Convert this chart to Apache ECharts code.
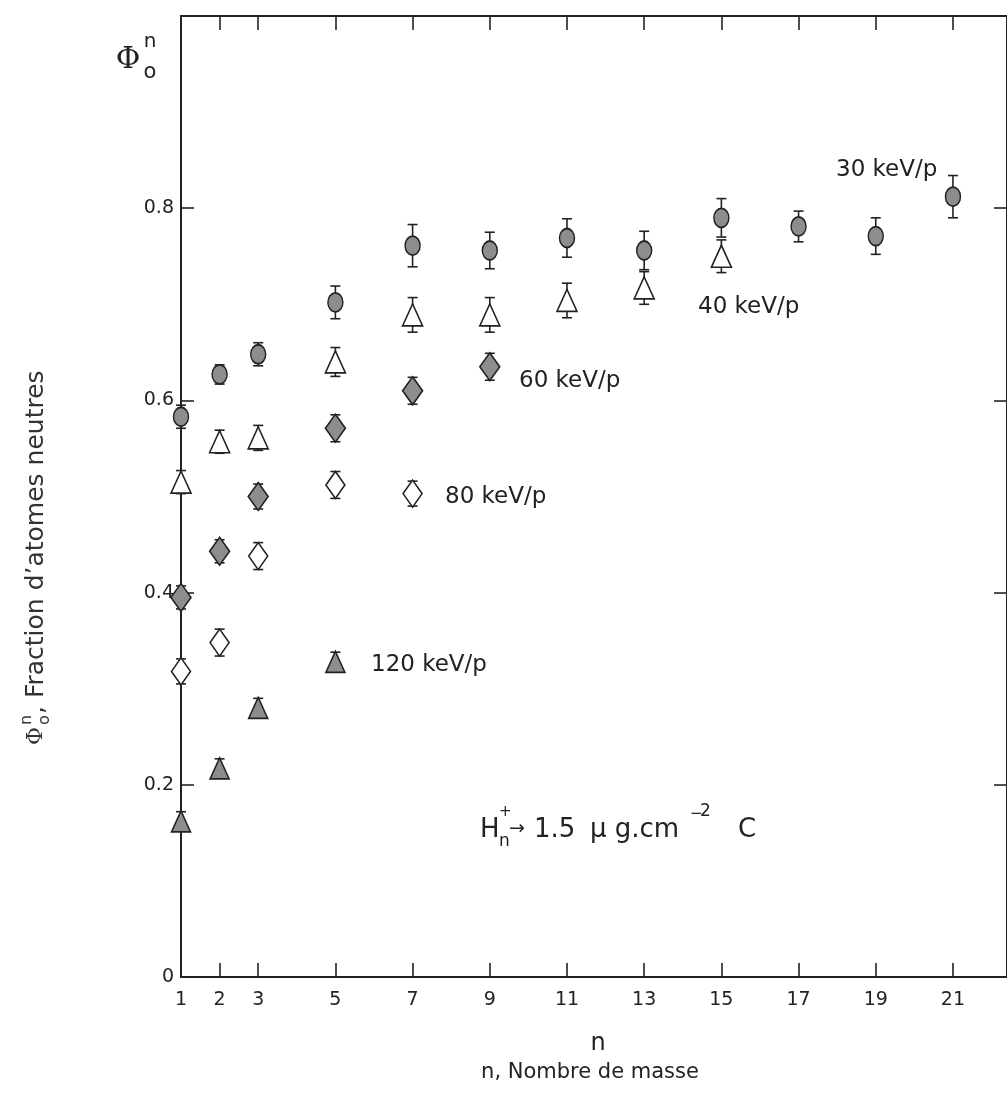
<!DOCTYPE html>
<html>
<head>
<meta charset="utf-8">
<script src="https://cdn.jsdelivr.net/npm/echarts@6/dist/echarts.min.js"></script>
<style>
html,body{margin:0;padding:0;background:#fff;}
#chart{width:1007px;height:1093px;}
</style>
</head>
<body>
<div id="chart"></div>
<script>
// ---- data ----
var xLabelValues = [1, 2, 3, 5, 7, 9, 11, 13, 15, 17, 19, 21];
var xTickValues = [2, 3, 5, 7, 9, 11, 13, 15, 17, 19, 21];
var yLabelValues = [0, 0.2, 0.4, 0.6, 0.8];
var yTickValues = [0.2, 0.4, 0.6, 0.8];

var n30 = [1, 2, 3, 5, 7, 9, 11, 13, 15, 17, 19, 21];
var v30 = [0.583, 0.627, 0.648, 0.702, 0.761, 0.756, 0.769, 0.756, 0.790, 0.781, 0.771, 0.812];
var e30 = [0.012, 0.010, 0.012, 0.017, 0.022, 0.019, 0.020, 0.020, 0.020, 0.016, 0.019, 0.022];

var n40 = [1, 2, 3, 5, 7, 9, 11, 13, 15];
var v40 = [0.515, 0.557, 0.561, 0.640, 0.689, 0.689, 0.704, 0.717, 0.750];
var e40 = [0.012, 0.012, 0.013, 0.015, 0.018, 0.018, 0.018, 0.017, 0.017];

var n60 = [1, 2, 3, 5, 7, 9];
var v60 = [0.395, 0.443, 0.500, 0.571, 0.610, 0.635];
var e60 = [0.012, 0.012, 0.013, 0.014, 0.014, 0.014];

var n80 = [1, 2, 3, 5, 7];
var v80 = [0.318, 0.348, 0.438, 0.512, 0.503];
var e80 = [0.013, 0.014, 0.014, 0.014, 0.013];

var n120 = [1, 2, 3, 5];
var v120 = [0.162, 0.217, 0.280, 0.328];
var e120 = [0.010, 0.010, 0.010, 0.010];

// ---- styling ----
var INK = '#222';
var SOFT = '#333';
var GRAYFILL = '#8d8d8d';
var FONT = '"DejaVu Sans", "Liberation Sans", sans-serif';

function pts(ns, vs) { return ns.map(function (n, i) { return [n, vs[i]]; }); }

function errSeries(ns, vs, es) {
  return {
    type: 'custom',
    silent: true,
    clip: false,
    z: 2,
    data: ns.map(function (n, i) { return [n, vs[i] - es[i], vs[i] + es[i]]; }),
    encode: { x: 0, y: [1, 2] },
    renderItem: function (params, api) {
      var x = api.value(0);
      var lo = api.coord([x, api.value(1)]);
      var hi = api.coord([x, api.value(2)]);
      var w = 5;
      var st = { stroke: INK, lineWidth: 1.6 };
      return {
        type: 'group',
        children: [
          { type: 'line', shape: { x1: lo[0], y1: lo[1], x2: hi[0], y2: hi[1] }, style: st },
          { type: 'line', shape: { x1: lo[0] - w, y1: lo[1], x2: lo[0] + w, y2: lo[1] }, style: st },
          { type: 'line', shape: { x1: hi[0] - w, y1: hi[1], x2: hi[0] + w, y2: hi[1] }, style: st }
        ]
      };
    }
  };
}

function markSeries(name, ns, vs, symbol, size, fill) {
  return {
    name: name,
    type: 'scatter',
    clip: false,
    z: 3,
    symbol: symbol,
    symbolSize: size,
    data: pts(ns, vs),
    itemStyle: { color: fill, borderColor: INK, borderWidth: 1.6, opacity: 1 },
    emphasis: { disabled: true }
  };
}

var axisLineStyle = { color: INK, width: 2 };
var tickLineStyle = { color: INK, width: 1.6 };

function txt(x, y, s, size, extra) {
  var st = { text: s, font: size + 'px ' + FONT, fill: INK, textVerticalAlign: 'middle' };
  if (extra) { for (var k in extra) st[k] = extra[k]; }
  return { type: 'text', x: x, y: y, style: st };
}

var option = {
  backgroundColor: '#fff',
  animation: false,
  grid: { left: 181, top: 16, width: 831, height: 961 },
  xAxis: [
    {
      type: 'value', position: 'bottom', min: 1, max: 22.4,
      axisLine: { show: true, onZero: false, lineStyle: axisLineStyle },
      axisTick: { show: true, inside: true, length: 14, customValues: xTickValues, lineStyle: tickLineStyle },
      axisLabel: { show: true, customValues: xLabelValues, fontSize: 19, color: INK, fontFamily: FONT, margin: 14 },
      splitLine: { show: false }
    },
    {
      type: 'value', position: 'top', min: 1, max: 22.4,
      axisLine: { show: true, onZero: false, lineStyle: axisLineStyle },
      axisTick: { show: true, inside: true, length: 14, customValues: xTickValues, lineStyle: tickLineStyle },
      axisLabel: { show: false },
      splitLine: { show: false }
    }
  ],
  yAxis: [
    {
      type: 'value', position: 'left', min: 0, max: 1, interval: 0.2,
      axisLine: { show: true, onZero: false, lineStyle: axisLineStyle },
      axisTick: { show: true, inside: true, length: 13, customValues: yTickValues, lineStyle: tickLineStyle },
      axisLabel: {
        show: true, customValues: yLabelValues, fontSize: 19, color: INK, fontFamily: FONT, margin: 7,
        formatter: function (v) { return v === 0 ? '0' : v.toFixed(1); }
      },
      splitLine: { show: false }
    },
    {
      type: 'value', position: 'right', min: 0, max: 1, interval: 0.2,
      axisLine: { show: true, onZero: false, lineStyle: axisLineStyle },
      axisTick: { show: true, inside: true, length: 13, customValues: yTickValues, lineStyle: tickLineStyle },
      axisLabel: { show: false },
      splitLine: { show: false }
    }
  ],
  series: [
    errSeries(n30, v30, e30),
    errSeries(n40, v40, e40),
    errSeries(n60, v60, e60),
    errSeries(n80, v80, e80),
    errSeries(n120, v120, e120),
    markSeries('30 keV/p', n30, v30, 'circle', [15, 19], GRAYFILL),
    markSeries('40 keV/p', n40, v40, 'triangle', [20, 22], '#fff'),
    markSeries('60 keV/p', n60, v60, 'diamond', [20, 28], GRAYFILL),
    markSeries('80 keV/p', n80, v80, 'diamond', [19, 27], '#fff'),
    markSeries('120 keV/p', n120, v120, 'triangle', [19, 21], GRAYFILL)
  ],
  graphic: [
    // series annotations
    txt(836, 170, '30 keV/p', 23),
    txt(698, 307, '40 keV/p', 23),
    txt(519, 381, '60 keV/p', 23),
    txt(445, 497, '80 keV/p', 23),
    txt(371, 665, '120 keV/p', 23),
    // reaction annotation
    txt(480, 830, 'H', 26),
    txt(499, 812, '+', 15),
    txt(499, 842, 'n', 17),
    txt(509, 829, '\u2192', 19),
    txt(534, 830, '1.5', 26),
    txt(590, 830, '\u03bc g.cm', 26),
    txt(690, 814, '\u2212', 15),
    txt(700, 812, '2', 17),
    txt(738, 830, 'C', 26),
    // top-left Phi symbol
    { type: 'text', x: 128, y: 60, style: { text: '\u03a6', font: '30px "DejaVu Serif"', fill: INK, textAlign: 'center', textVerticalAlign: 'middle' } },
    txt(150, 42, 'n', 20, { textAlign: 'center' }),
    txt(150, 73, 'o', 21, { textAlign: 'center' }),
    // x axis names
    txt(598, 1044, 'n', 24, { textAlign: 'center' }),
    txt(590, 1073, 'n, Nombre de masse', 21, { textAlign: 'center' }),
    // y axis title (rotated, reads bottom to top)
    {
      type: 'group', x: 36, y: 745, rotation: Math.PI / 2,
      children: [
        { type: 'text', x: 0, y: 0, style: { text: '\u03a6', font: '22px "DejaVu Serif"', fill: SOFT, textVerticalAlign: 'middle' } },
        txt(20, -9, 'n', 16, { fill: SOFT }),
        txt(20, 9, 'o', 16, { fill: SOFT }),
        txt(31, 0, ', Fraction d\u2019atomes neutres', 25, { fill: SOFT })
      ]
    }
  ]
};

var chart = echarts.init(document.getElementById('chart'), null, { renderer: 'canvas' });
chart.setOption(option);
</script>
</body>
</html>
